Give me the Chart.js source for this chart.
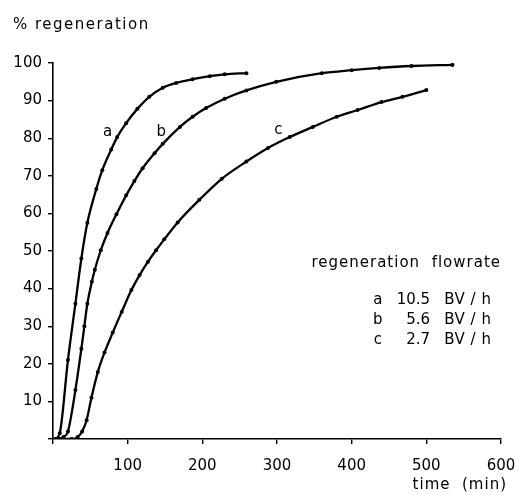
<!DOCTYPE html>
<html>
<head>
<meta charset="utf-8">
<script src="https://cdn.jsdelivr.net/npm/chart.js@4.4.1/dist/chart.umd.min.js"></script>
<style>
  html, body { margin: 0; padding: 0; background: #fff; }
  canvas { display: block; }
</style>
</head>
<body>
<canvas id="regenChart" width="519" height="495"></canvas>
<script>
// time (min) and % regeneration
const timeA = [3, 9, 20, 30, 38, 46, 58, 66, 78, 86, 98, 113, 129, 147, 165, 187, 210, 230, 259];
const regenA = [0, 1.5, 21, 36, 48, 57.5, 66.5, 71.5, 77, 80.3, 84, 87.8, 91, 93.4, 94.7, 95.7, 96.5, 97, 97.3];

const timeB = [5, 14, 20, 30, 38, 42, 46, 52, 56, 64, 73, 85, 98, 109, 120, 136, 147, 170, 187, 205, 230, 259, 299, 360, 400, 437, 480, 535];
const regenB = [0, 0.5, 2, 13, 24, 30, 36, 41.8, 45, 50.2, 54.8, 59.8, 64.8, 68.6, 72, 76, 78.5, 83, 85.7, 88, 90.5, 92.7, 95, 97.3, 98.1, 98.7, 99.2, 99.5];

const timeC = [8, 25, 33, 39, 45, 51.5, 60, 69, 80, 92, 105, 116, 127, 138, 149, 167, 196, 226, 259, 288, 317, 348, 380, 408, 440, 468, 500];
const regenC = [0, 0, 0.5, 2, 5, 11, 17.8, 23, 28.3, 33.8, 39.6, 43.6, 47.1, 50.2, 53.1, 57.6, 63.6, 69.2, 73.8, 77.4, 80.3, 83, 85.7, 87.5, 89.6, 91, 92.8];

const curveNames = ['a', 'b', 'c'];
const flowrates = ['10.5', '5.6', '2.7'];
const xTicks = [100, 200, 300, 400, 500, 600];
const yTicks = [10, 20, 30, 40, 50, 60, 70, 80, 90, 100];

const FONT = '"DejaVu Sans", sans-serif';

const toPoints = (xs, ys) => xs.map((x, i) => ({ x, y: ys[i] }));

const lineStyle = {
  borderColor: '#000',
  backgroundColor: '#000',
  borderWidth: 2.3,
  pointRadius: 2,
  pointBorderWidth: 0,
  cubicInterpolationMode: 'monotone',
  fill: false,
};

// curve letters and the flowrate table, drawn on the canvas
const textPlugin = {
  id: 'texts',
  afterDraw(chart) {
    const { ctx, scales: { x, y } } = chart;
    ctx.save();
    ctx.fillStyle = '#000';
    ctx.font = '15px ' + FONT;
    ctx.textBaseline = 'middle';
    ctx.letterSpacing = '1.5px';

    ctx.textAlign = 'left';
    ctx.fillText('% regeneration', 13, 25);

    ctx.letterSpacing = '1px';
    ctx.textAlign = 'right';
    ctx.fillText('time  (min)', 507, 485);

    // letters on the curves
    ctx.letterSpacing = '0px';
    ctx.textAlign = 'center';
    const labelAt = [[73, 81.6], [145, 81.6], [302, 82.2]];
    curveNames.forEach((n, i) => {
      ctx.fillText(n, x.getPixelForValue(labelAt[i][0]), y.getPixelForValue(labelAt[i][1]));
    });

    // flowrate table
    ctx.letterSpacing = '1px';
    ctx.textAlign = 'right';
    ctx.fillText('regeneration  flowrate', x.getPixelForValue(600), y.getPixelForValue(46.8));
    const rowY = [37, 31.6, 26.3];
    curveNames.forEach((n, i) => {
      const py = y.getPixelForValue(rowY[i]);
      ctx.letterSpacing = '0px';
      ctx.textAlign = 'center';
      ctx.fillText(n, x.getPixelForValue(435), py);
      ctx.textAlign = 'right';
      ctx.fillText(flowrates[i], x.getPixelForValue(505), py);
      ctx.letterSpacing = '0.5px';
      ctx.textAlign = 'left';
      ctx.fillText('BV / h', x.getPixelForValue(524), py);
    });
    ctx.restore();
  },
};

new Chart(document.getElementById('regenChart'), {
  type: 'line',
  data: {
    datasets: [
      { label: 'a', data: toPoints(timeA, regenA), ...lineStyle },
      { label: 'b', data: toPoints(timeB, regenB), ...lineStyle },
      { label: 'c', data: toPoints(timeC, regenC), ...lineStyle },
    ],
  },
  options: {
    responsive: false,
    animation: false,
    layout: { padding: { top: 63, right: 18, left: 0, bottom: 0 } },
    plugins: {
      legend: { display: false },
      tooltip: { enabled: false },
    },
    scales: {
      x: {
        type: 'linear',
        min: 0,
        max: 600,
        afterBuildTicks: (scale) => { scale.ticks = [{ value: 0 }, ...xTicks.map((v) => ({ value: v }))]; },
        afterFit: (scale) => {
          scale.height = 56;
          scale.paddingLeft = 0;
          scale.paddingRight = 0;
        },
        border: { color: '#000', width: 1.6 },
        grid: { drawOnChartArea: false, color: '#000', tickLength: 5, lineWidth: 1.4 },
        ticks: {
          color: '#000',
          font: { family: FONT, size: 15 },
          padding: 13,
          maxRotation: 0,
          callback: (v) => (v === 0 ? '' : v),
        },
      },
      y: {
        min: 0,
        max: 100,
        afterBuildTicks: (scale) => { scale.ticks = [{ value: 0 }, ...yTicks.map((v) => ({ value: v }))]; },
        afterFit: (scale) => {
          scale.width = 53;
          scale.paddingTop = 0;
          scale.paddingBottom = 0;
        },
        border: { color: '#000', width: 1.6 },
        grid: { drawOnChartArea: false, color: '#000', tickLength: 5, lineWidth: 1.4 },
        ticks: {
          color: '#000',
          font: { family: FONT, size: 15 },
          padding: 6,
          callback: (v) => (v === 0 ? '' : v),
        },
      },
    },
  },
  plugins: [textPlugin],
});
</script>
</body>
</html>
